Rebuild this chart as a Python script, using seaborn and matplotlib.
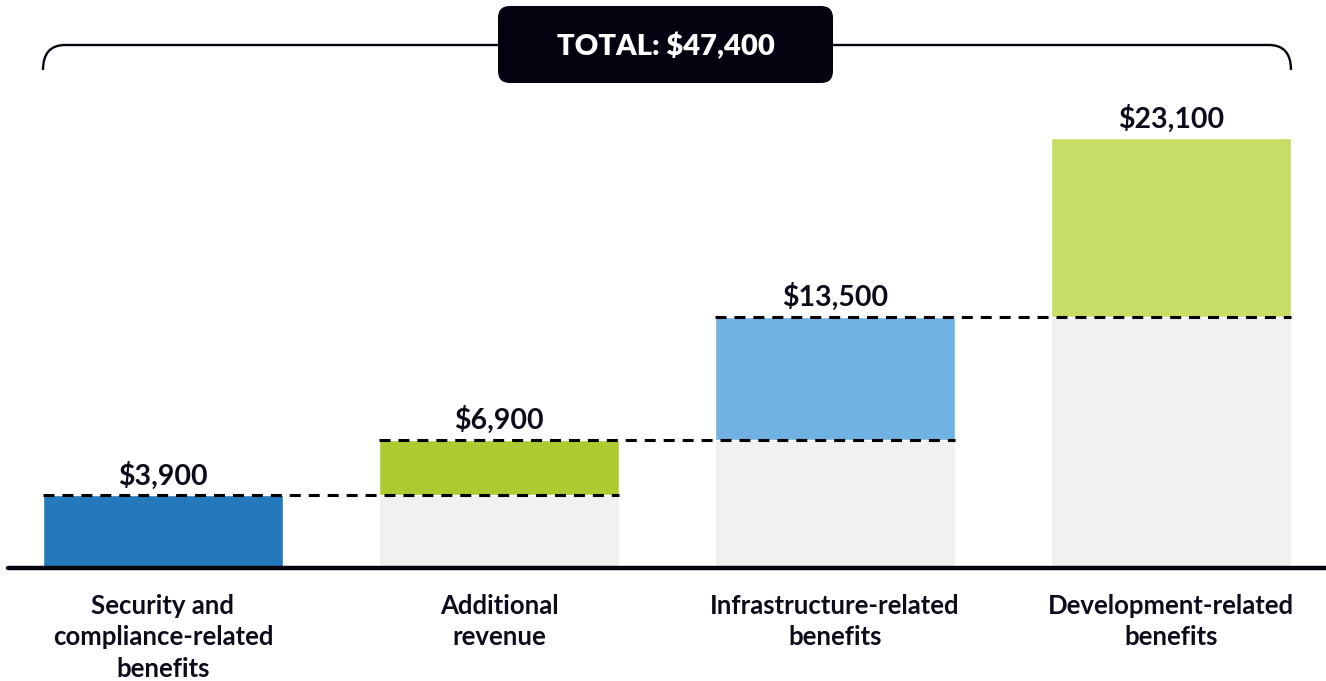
import pandas as pd
import matplotlib
matplotlib.use("Agg")
import matplotlib.pyplot as plt
import seaborn as sns
from matplotlib.patches import FancyBboxPatch, PathPatch
from matplotlib.path import Path

categories = [
    "Security and\ncompliance-related\nbenefits",
    "Additional\nrevenue",
    "Infrastructure-related\nbenefits",
    "Development-related\nbenefits",
]
values = [3900, 6900, 13500, 23100]
value_labels = ["$3,900", "$6,900", "$13,500", "$23,100"]
total_label = "TOTAL: $47,400"
bar_colors = ["#2379BC", "#ADCB30", "#70B2E2", "#C7DE66"]

# each step starts where the previous one ended
bases = [0] + values[:-1]

df = pd.DataFrame({"benefit": categories, "value": values, "base": bases})

W, H = 1326, 681
ink = "#0B0B1A"
bar_w = 0.714

sns.set_theme(style="white")
plt.rcParams["font.family"] = ["Lato", "DejaVu Sans"]

fig = plt.figure(figsize=(W / 100, H / 100), dpi=100)
ax = fig.add_axes([0, 0, 1, 1])

# coloured step, then grey block up to the previous total painted over it
sns.barplot(data=df, x="benefit", y="value", hue="benefit", palette=bar_colors,
            width=bar_w, saturation=1, errorbar=None, legend=False, ax=ax, zorder=2)
sns.barplot(data=df, x="benefit", y="base", color="#F1F1F1",
            width=bar_w, saturation=1, errorbar=None, ax=ax, zorder=3)

ax.set_xlim(-0.485, 3.461)
ax.set_ylim(-6070, 30513)
ax.axis("off")

# dashed connectors
half = bar_w / 2
for i in range(len(values) - 1):
    ax.plot([i - half, i + 1 + half], [values[i], values[i]], color="black",
            lw=2.2, ls=(0, (3.6, 2.6)), zorder=5)

# baseline
ax.axhline(0, xmin=8 / W, xmax=1, color="#05050F", lw=3.2, zorder=6)

# value labels
for i, (v, lab) in enumerate(zip(values, value_labels)):
    ax.annotate(lab, (i, v), xytext=(0, 7.5), textcoords="offset points",
                ha="center", va="baseline", fontsize=20.5, fontweight="bold", color=ink)

# category labels
for i, lab in enumerate(categories):
    ax.annotate(lab, (i, 0), xytext=(0, -18.5), textcoords="offset points",
                ha="center", va="top", fontsize=18.5, fontweight="bold", color=ink,
                linespacing=1.38)

# bracket + total box on a pixel overlay
deco = fig.add_axes([0, 0, 1, 1], zorder=10)
deco.set_xlim(0, W)
deco.set_ylim(H, 0)
deco.axis("off")
deco.patch.set_visible(False)

r = 22
verts = [(43, 70), (43, 45), (43 + r, 45), (1291 - r, 45), (1291, 45), (1291, 70)]
codes = [Path.MOVETO, Path.CURVE3, Path.CURVE3, Path.LINETO, Path.CURVE3, Path.CURVE3]
deco.add_patch(PathPatch(Path(verts, codes), fill=False, ec="#05050F", lw=1.7))

deco.add_patch(FancyBboxPatch((498, 6), 335, 77, boxstyle="round,pad=0,rounding_size=12",
                              fc="#03020F", ec="none", zorder=11))
deco.text(665.5, 46, total_label, ha="center", va="center", fontsize=21,
          fontweight="heavy", color="white", zorder=12)

fig.savefig("out.png", dpi=100)
